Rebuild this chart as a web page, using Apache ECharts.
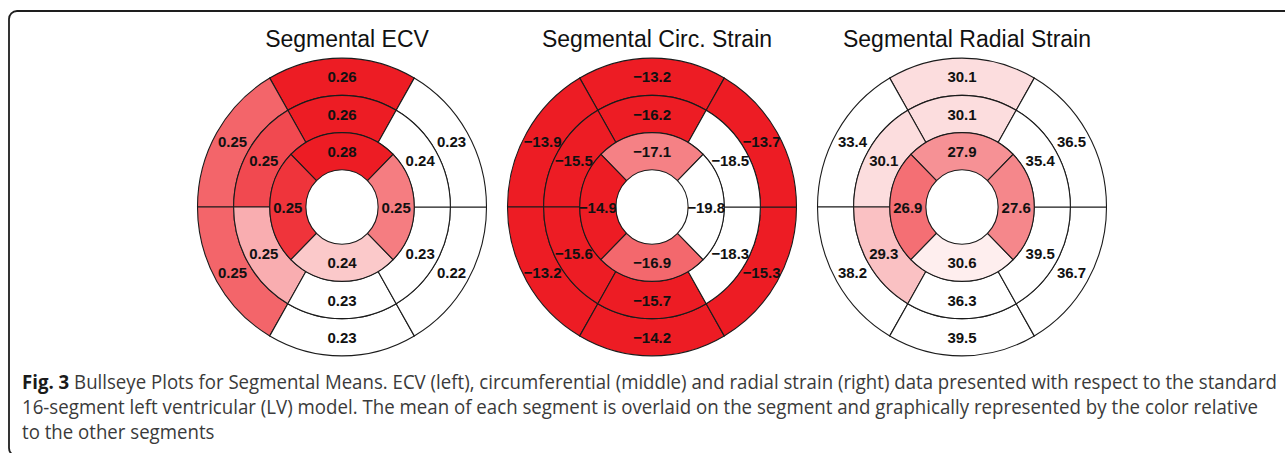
<!DOCTYPE html>
<html>
<head>
<meta charset="utf-8">
<script src="https://cdn.jsdelivr.net/npm/echarts@6/dist/echarts.min.js"></script>
<style>
  html, body { margin: 0; padding: 0; background: #ffffff; }
  #chart { width: 1285px; height: 453px; }
</style>
</head>
<body>
<div id="chart"></div>
<script>
// Panel titles
const panelTitles = ['Segmental ECV', 'Segmental Circ. Strain', 'Segmental Radial Strain'];

// Segment means, AHA 16-segment model.
// Basal (1-6) and mid (7-12): anterior, anteroseptal, inferoseptal, inferior, inferolateral, anterolateral
// Apical (13-16): anterior, septal, inferior, lateral
const ecvBasal  = [0.26, 0.2502, 0.2502, 0.23, 0.22, 0.23];
const ecvMid    = [0.26, 0.2520, 0.2454, 0.23, 0.23, 0.24];
const ecvApical = [0.28, 0.2534, 0.2436, 0.2486];

const circBasal  = [-13.2, -13.9, -13.2, -14.2, -15.3, -13.7];
const circMid    = [-16.2, -15.5, -15.6, -15.7, -18.3, -18.5];
const circApical = [-17.1, -14.9, -16.9, -19.8];

const radBasal  = [30.1, 33.4, 38.2, 39.5, 36.7, 36.5];
const radMid    = [30.1, 30.1, 29.3, 36.3, 39.5, 35.4];
const radApical = [27.9, 26.9, 30.6, 27.6];

// Caption lines
const captionLines = [
  'Bullseye Plots for Segmental Means. ECV (left), circumferential (middle) and radial strain (right) data presented with respect to the standard',
  '16-segment left ventricular (LV) model. The mean of each segment is overlaid on the segment and graphically represented by the color relative',
  'to the other segments'
];
const captionLead = 'Fig. 3';

const RED = '#ED1C24';
const WHITE = '#FFFFFF';

const panels = [
  { basal: ecvBasal,  mid: ecvMid,  apical: ecvApical,  decimals: 2, colorMin: 0.240, colorMax: 0.255, colors: [WHITE, RED] },
  { basal: circBasal, mid: circMid, apical: circApical, decimals: 1, colorMin: -18.1, colorMax: -16.3, colors: [WHITE, RED] },
  { basal: radBasal,  mid: radMid,  apical: radApical,  decimals: 1, colorMin: 24.5,  colorMax: 31.1,  colors: [RED, WHITE] }
];

const centersX = [342, 652, 962];
const CENTER_Y = 207;
const RADIUS = 144.5;
const STRETCH_Y = 1.03;
const LABEL_FONT = '"Liberation Sans", Arial, Helvetica, sans-serif';

function fmt(v, d) {
  return v.toFixed(d).replace('-', '\u2212');
}

// rows: [innerRing, outerRing, midAngle, halfSpan, value]
function segmentRows(basal, mid, apical) {
  const rows = [];
  basal.forEach((v, k) => rows.push([3, 4, (90 + 60 * k) % 360, 30, v]));
  mid.forEach((v, k) => rows.push([2, 3, (90 + 60 * k) % 360, 30, v]));
  apical.forEach((v, k) => rows.push([1, 2, (90 + 90 * k) % 360, 45, v]));
  return rows;
}

function segmentRenderer(decimals) {
  return function (params, api) {
    const cs = params.coordSys;
    const rIn = api.value(0), rOut = api.value(1);
    const mid = api.value(2), half = api.value(3), v = api.value(4);
    const pIn = api.coord([rIn, mid]);
    const pOut = api.coord([rOut, mid]);
    const pStart = api.coord([rOut, mid + half]);
    const pLabel = api.coord([(rIn + rOut) / 2, mid]);
    const r0 = Math.hypot(pIn[0] - cs.cx, pIn[1] - cs.cy);
    const r = Math.hypot(pOut[0] - cs.cx, pOut[1] - cs.cy);
    const start = Math.atan2(pStart[1] - cs.cy, pStart[0] - cs.cx);
    const end = start + 2 * half * Math.PI / 180;
    return {
      type: 'group',
      originX: cs.cx,
      originY: cs.cy,
      scaleY: STRETCH_Y,
      children: [
        {
          type: 'sector',
          shape: { cx: cs.cx, cy: cs.cy, r0: r0, r: r, startAngle: start, endAngle: end, clockwise: true },
          style: { fill: api.visual('color'), stroke: '#1b1b1b', lineWidth: 1.1 }
        },
        {
          type: 'text',
          x: pLabel[0],
          y: pLabel[1],
          style: {
            text: fmt(v, decimals),
            fill: '#111111',
            fontFamily: LABEL_FONT,
            fontSize: 15,
            fontWeight: 'bold',
            align: 'center',
            verticalAlign: 'middle'
          }
        }
      ]
    };
  };
}

// Fit each caption line to its width in the figure (condensed caption face)
const CAPTION_FONT = '"Open Sans", "Liberation Sans", sans-serif';
const CAPTION_SIZE = 20;
const captionWidths = [1255, 1237, null];
const measureCtx = document.createElement('canvas').getContext('2d');
measureCtx.font = 'bold ' + CAPTION_SIZE + 'px ' + CAPTION_FONT;
const leadWidth = measureCtx.measureText(captionLead + ' ').width;
measureCtx.font = CAPTION_SIZE + 'px ' + CAPTION_FONT;
const lineWidths = captionLines.map((l, j) => measureCtx.measureText(l).width + (j === 0 ? leadWidth : 0));
const baseScale = captionWidths[0] / lineWidths[0];
const captionScales = captionLines.map((l, j) => captionWidths[j] ? captionWidths[j] / lineWidths[j] : baseScale);

const chart = echarts.init(document.getElementById('chart'), null, { renderer: 'svg' });

const option = {
  backgroundColor: '#ffffff',
  animation: false,
  title: panelTitles.map((t, i) => ({
    text: t,
    left: centersX[i],
    top: 22,
    textAlign: 'center',
    textStyle: {
      fontFamily: '"Liberation Sans", Arial, Helvetica, sans-serif',
      fontSize: 23,
      fontWeight: 'normal',
      color: '#111111'
    }
  })),
  polar: panels.map((p, i) => ({ center: [centersX[i], CENTER_Y], radius: RADIUS })),
  angleAxis: panels.map((p, i) => ({
    polarIndex: i, type: 'value', min: 0, max: 360, startAngle: 0, clockwise: false, show: false
  })),
  radiusAxis: panels.map((p, i) => ({
    polarIndex: i, type: 'value', min: 0, max: 4, show: false
  })),
  visualMap: panels.map((p, i) => ({
    type: 'continuous', show: false, seriesIndex: i, dimension: 4,
    min: p.colorMin, max: p.colorMax, inRange: { color: p.colors }
  })),
  series: panels.map((p, i) => ({
    type: 'custom',
    coordinateSystem: 'polar',
    polarIndex: i,
    encode: { radius: [0, 1], angle: [2] },
    data: segmentRows(p.basal, p.mid, p.apical),
    renderItem: segmentRenderer(p.decimals),
    silent: true
  })),
  graphic: [
    {
      type: 'rect',
      shape: { x: 9, y: 11, width: 1300, height: 445, r: 8 },
      style: { fill: 'none', stroke: '#1e1e1e', lineWidth: 1.8 },
      silent: true
    }
  ].concat(captionLines.map((line, j) => ({
    type: 'text',
    x: 22,
    y: 381 + 25 * j,
    scaleX: captionScales[j],
    silent: true,
    style: {
      text: j === 0 ? '{b|' + captionLead + '} ' + line : line,
      font: CAPTION_SIZE + 'px ' + CAPTION_FONT,
      fill: '#3a3a3a',
      verticalAlign: 'middle',
      rich: {
        b: { font: 'bold ' + CAPTION_SIZE + 'px ' + CAPTION_FONT, fill: '#1a1a1a' }
      }
    }
  })))
};

chart.setOption(option);
</script>
</body>
</html>
